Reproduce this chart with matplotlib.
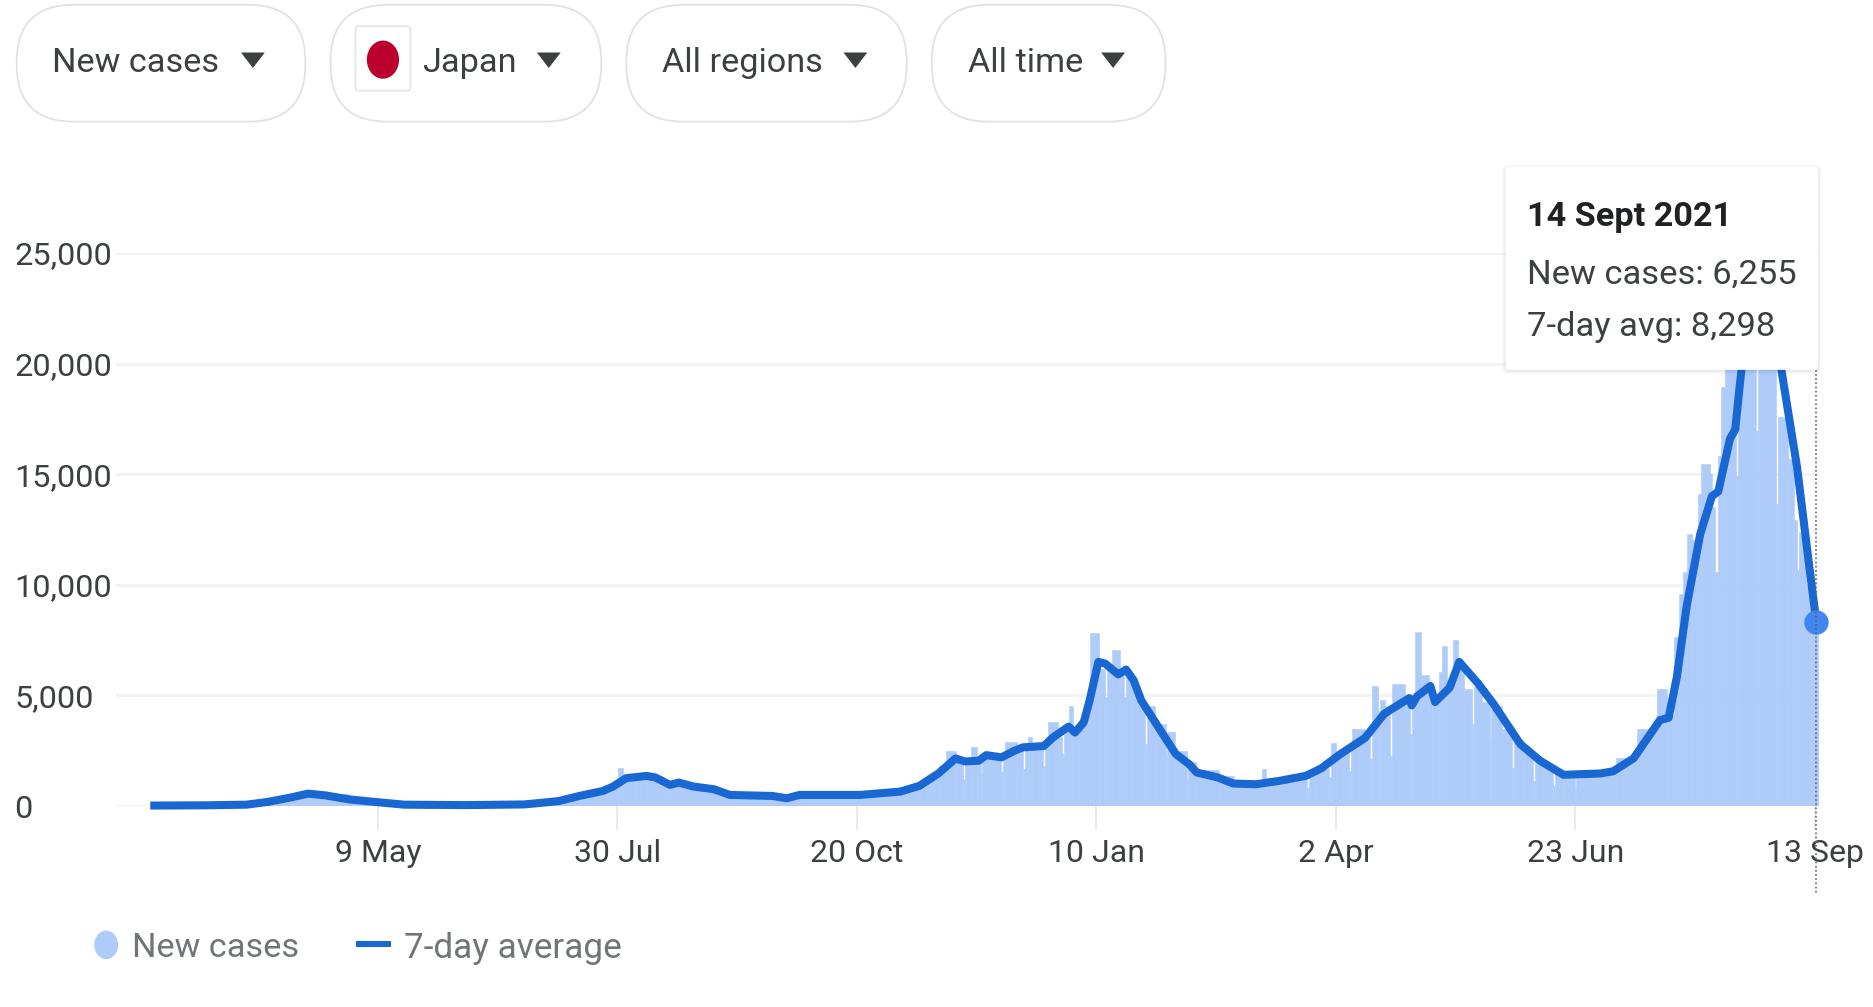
import matplotlib
matplotlib.use("Agg")
import matplotlib.pyplot as plt
from matplotlib.patches import FancyBboxPatch, Ellipse, Polygon, Rectangle

plt.rcParams['font.family'] = ['Roboto', 'DejaVu Sans']

# Days counted from 9 May 2020
avg_days = [-78, -60, -45, -38, -30, -24, -18, -10, 0, 9,
            30, 50, 58, 62, 69, 77, 80.5, 85, 92, 95,
            100, 103, 108, 115, 120.5, 135, 140, 144.4, 165, 178.8,
            185.4, 191.9, 197.8, 201, 205.7, 208.3, 213.5, 218, 220.8, 228,
            231.2, 236.5, 238.7, 241.7, 243.7, 246.7, 249, 253.5, 256.2, 258.8,
            261.4, 268, 273.2, 277.8, 280.4, 287.6, 292.9, 300.7, 308.6, 317.8,
            323, 329.6, 338, 344.6, 353.2, 354, 355.8, 360.4, 362, 367,
            370.3, 376.8, 382, 391.2, 398, 406, 418.6, 423, 430, 439,
            442, 444.8, 448.2, 452.8, 456.8, 459, 463, 464.8, 467, 470,
            473, 477, 480.8, 486, 490, 492.6]
avg_vals = [20, 30, 60, 180, 380, 560, 480, 300, 170, 60,
            40, 70, 170, 227, 455, 680, 880, 1260, 1360, 1290,
            955, 1060, 880, 760, 500, 455, 350, 500, 500, 650,
            910, 1470, 2150, 2015, 2045, 2300, 2200, 2500, 2650, 2710,
            3105, 3590, 3320, 3790, 4770, 6515, 6440, 5950, 6165, 5680,
            4770, 3410, 2350, 1890, 1515, 1290, 1015, 985, 1135, 1365,
            1700, 2350, 3075, 4170, 4880, 4545, 4955, 5425, 4700, 5350,
            6515, 5530, 4620, 2800, 2045, 1410, 1470, 1570, 2155, 3880,
            3990, 5820, 9050, 12280, 14000, 14220, 16600, 17020, 19830, 22000,
            23000, 22500, 19570, 15300, 11000, 8298]

case_days = [-78, -50, -42, -35, -30, -24, -18, -10, 0, 8,
             30, 50, 58, 65, 72, 78, 82.3, 84, 88, 92,
             96, 98.5, 100, 104, 108, 112, 118, 125, 135, 141,
             145, 165, 175, 180, 185, 188, 192, 194.5, 197.8, 200.4,
             201, 203, 205, 206.4, 207, 213.4, 214, 214.8, 218.8, 220.9,
             221.5, 222.7, 224, 227.7, 228.3, 229.3, 232.8, 234.4, 235, 236.5,
             238, 240, 242, 243.7, 247, 249.1, 249.7, 251.3, 254.2, 255.4,
             256, 258, 260, 262.7, 263.3, 266, 269.7, 270.3, 273, 276.9,
             277.5, 280, 288, 293, 302.7, 304, 308, 316, 318.3, 318.9,
             321, 325.7, 326.3, 328.1, 332.5, 333.1, 333.5, 338, 339.8, 340.4,
             342.3, 343, 345, 346.6, 347.2, 351.8, 353.4, 354, 355, 355.2,
             357.1, 359.8, 361, 363.2, 364.3, 366, 368.3, 370, 372, 374.7,
             375.3, 378, 380.7, 381.3, 385, 388.4, 389, 392, 395.6, 396.2,
             399, 402.4, 403, 406, 409.8, 410.4, 416, 424, 431, 437.9,
             441.4, 444, 445.4, 447, 448.2, 450, 452, 453, 456, 456.7,
             457.9, 459, 460, 461.3, 465, 465.6, 471.9, 472.5, 478.8, 479.4,
             483, 485, 486, 486.6, 489, 491, 493]
case_vals = [10, 30, 70, 200, 400, 620, 520, 330, 170, 60,
             40, 90, 220, 440, 620, 800, 1740, 1380, 1450, 1360,
             1150, 900, 1100, 980, 830, 720, 500, 480, 440, 400,
             520, 540, 720, 820, 1040, 1400, 1800, 2500, 2150, 1210,
             2150, 2650, 2150, 1440, 2200, 1515, 2300, 2880, 2550, 1665,
             2650, 3100, 2750, 1790, 2700, 3790, 3100, 2350, 3400, 4500,
             3300, 3600, 4300, 7800, 6200, 4920, 6300, 7075, 6100, 4920,
             5900, 5500, 4800, 2800, 4500, 3700, 2270, 3350, 2500, 1210,
             2000, 1650, 1350, 1080, 1665, 1050, 1180, 1300, 830, 1450,
             1700, 1290, 2830, 2400, 1590, 2800, 3485, 3200, 2120, 5420,
             4300, 4800, 4500, 2270, 5530, 4900, 3260, 5000, 3790, 7880,
             5900, 5400, 5000, 6060, 7230, 5700, 7500, 6300, 5300, 3700,
             5400, 4700, 3100, 4500, 3500, 1740, 3000, 2400, 1135, 2100,
             1800, 910, 1500, 1400, 830, 1500, 1550, 2150, 3500, 5280,
             4100, 7650, 9600, 10560, 12280, 12040, 14090, 15450, 15000, 13500,
             10600, 15830, 18940, 21000, 14920, 23500, 16970, 25000, 13635, 17600,
             15680, 12950, 10680, 12400, 10000, 8700, 6255]

x_ticks = [0, 82, 164, 246, 328, 410, 492]
x_labels = ['9 May', '30 Jul', '20 Oct', '10 Jan', '2 Apr', '23 Jun', '13 Sep']
y_ticks = [0, 5000, 10000, 15000, 20000, 25000]
y_labels = ['0', '5,000', '10,000', '15,000', '20,000', '25,000']

W, H = 1874, 1007
fig = plt.figure(figsize=(W / 100, H / 100), dpi=100, facecolor='white')

# main chart axes, pixel box 116..1819 by 253..806
X0, X1, YT, YB = 116, 1819, 253, 806
ax = fig.add_axes([X0 / W, 1 - YB / H, (X1 - X0) / W, (YB - YT) / H])
ax.set_xlim((X0 - 378) / 2.92, (X1 - 378) / 2.92)
ax.set_ylim(0, 25000)
for s in ax.spines.values():
    s.set_visible(False)

widths = [b - a for a, b in zip(case_days, case_days[1:] + [494])]
ax.bar(case_days, case_vals, width=widths, align='edge', color='#aecbfa', edgecolor='#aecbfa', linewidth=0.4, zorder=2)
ax.plot(avg_days, avg_vals, color='#1967d2', lw=5.8, zorder=3, clip_on=False, solid_joinstyle='round', solid_capstyle='butt')
ax.plot([avg_days[-1]], [avg_vals[-1]], 'o', color='#4285f4', ms=17.5, mew=0, zorder=4, clip_on=False)

ax.set_yticks(y_ticks, y_labels, fontsize=23.4, color='#3c4043')
ax.set_xticks(x_ticks, x_labels, fontsize=23, color='#3c4043')
ax.yaxis.grid(True, color='#f1f3f4', lw=2.2, zorder=1)
ax.tick_params(axis='y', length=0, pad=73)
for t in ax.get_yticklabels():
    t.set_ha('left')
ax.tick_params(axis='x', length=17, width=1.5, color='#e8eaed', pad=6.5)
ax.set_axisbelow(True)

# overlay in reference-view coordinates for the page furniture
ov = fig.add_axes([0, 0, 1, 1], facecolor='none', zorder=5)
ov.set_xlim(0, W / 1.193)
ov.set_ylim(H / 1.193, 0)
ov.axis('off')

pills = [(14, 256, 'New cases', 44, 212), (277, 504, 'Japan', 354, 460),
         (525, 760, 'All regions', 555, 717), (781, 977, 'All time', 811, 933)]
for x0, x1, label, tx, ax_ in pills:
    ov.add_patch(FancyBboxPatch((x0 + 48, 4 + 48), x1 - x0 - 96, 2, boxstyle='round,pad=48,rounding_size=48',
                                fc='white', ec='#e0e2e6', lw=1.3))
    ov.text(tx, 53, label, fontsize=24.7, color='#3c4043', va='center', ha='left')
    ov.add_patch(Polygon([(ax_ - 10, 44), (ax_ + 10, 44), (ax_, 57)], closed=True, fc='#3c4043', ec='none'))

ov.add_patch(FancyBboxPatch((300, 24), 42, 50, boxstyle='round,pad=2,rounding_size=3', fc='white', ec='#e6e8ea', lw=1.5))
ov.add_patch(Ellipse((321, 50), 27, 32, fc='#bc002d', ec='none'))

# dotted cursor
ov.plot([1522, 1522], [310, 750], color='#5f6368', lw=1.2, ls=(0, (1, 1.5)))

# tooltip with soft shadow
for grow, alpha in [(3, 0.015), (2, 0.025), (1, 0.04)]:
    ov.add_patch(FancyBboxPatch((1265, 144), 256, 164, boxstyle=f'round,pad={3 + grow},rounding_size=4',
                                fc='black', ec='none', alpha=alpha))
ov.add_patch(FancyBboxPatch((1265, 143), 256, 164, boxstyle='round,pad=3,rounding_size=3', fc='white', ec='none'))
ov.text(1280, 182, '14 Sept 2021', fontsize=24.7, fontweight='bold', color='#202124', va='center')
ov.text(1280, 230, 'New cases: 6,255', fontsize=24.8, color='#3c4043', va='center')
ov.text(1280, 274, '7-day avg: 8,298', fontsize=24.8, color='#3c4043', va='center')

# legend
ov.add_patch(Ellipse((89, 792), 20, 24, fc='#aecbfa', ec='none'))
ov.text(111, 795, 'New cases', fontsize=24.7, color='#70757a', va='center')
ov.add_patch(Rectangle((298, 789), 30, 5, fc='#1967d2', ec='none'))
ov.text(339, 795, '7-day average', fontsize=25.3, color='#70757a', va='center')

fig.savefig('out.png', dpi=100, facecolor='white')
